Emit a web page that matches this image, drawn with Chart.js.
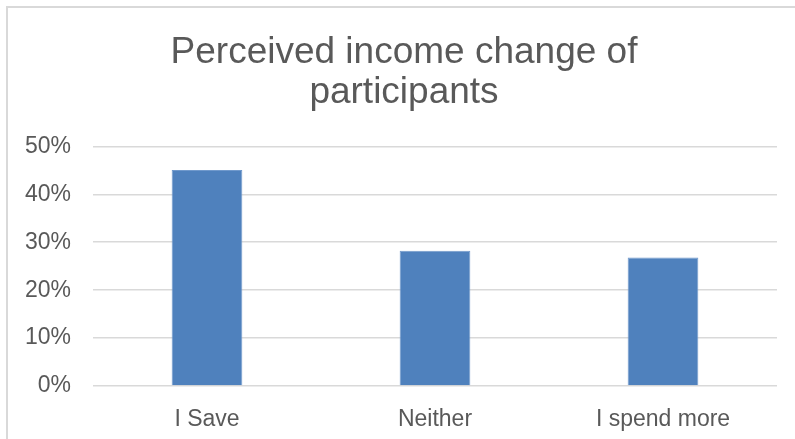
<!DOCTYPE html>
<html>
<head>
<meta charset="utf-8">
<script src="https://cdn.jsdelivr.net/npm/chart.js@4"></script>
<style>
  html, body { margin: 0; padding: 0; background: #fff; }
  #wrap { position: relative; width: 795px; height: 439px; overflow: hidden; }
  #frame { position: absolute; left: 6px; top: 6px; width: 820px; height: 460px;
           border: 2px solid #d9d9d9; box-sizing: border-box; }
  canvas { position: absolute; left: 0; top: 0; }
</style>
</head>
<body>
<div id="wrap">
  <div id="frame"></div>
  <!-- canvas un poco más ancho: el marco del original sigue fuera de la imagen -->
  <canvas id="chart" width="808" height="439"></canvas>
</div>
<script>
// Datos del gráfico
const categories = ['I Save', 'Neither', 'I spend more'];
const shares = [45.1, 28.2, 26.8];
const titleLines = ['Perceived income change of', 'participants'];

const grey = '#595959';
const fontFamily = '"Liberation Sans", Arial, sans-serif';

new Chart(document.getElementById('chart'), {
  type: 'bar',
  data: {
    labels: categories,
    datasets: [{
      data: shares,
      backgroundColor: '#4f81bd',
      borderColor: '#7099cc',
      borderWidth: 1,
      categoryPercentage: 1,
      barPercentage: 0.31
    }]
  },
  options: {
    responsive: false,
    animation: false,
    layout: { padding: 0 },
    plugins: {
      legend: { display: false },
      tooltip: { enabled: false },
      title: {
        display: true,
        text: titleLines,
        color: grey,
        font: { family: fontFamily, size: 37, weight: 'normal', lineHeight: 1.1 },
        padding: { top: 32, bottom: 33 }
      }
    },
    scales: {
      x: {
        grid: { display: false },
        border: { display: false },
        ticks: {
          color: grey,
          padding: 12,
          font: { family: fontFamily, size: 23 }
        },
        afterFit: s => { s.height = 53; }
      },
      y: {
        min: 0,
        max: 50,
        border: { display: false },
        grid: { color: '#d9d9d9', lineWidth: 1.5, drawTicks: false },
        ticks: {
          stepSize: 10,
          color: grey,
          padding: 22,
          font: { family: fontFamily, size: 23 },
          callback: v => v + '%'
        },
        afterFit: s => { s.width = 93; }
      },
      // eje vacío a la derecha: deja el margen derecho sin mover el título
      yr: {
        position: 'right',
        grid: { display: false },
        border: { display: false },
        ticks: { display: false },
        afterFit: s => { s.width = 31; }
      }
    }
  }
});
</script>
</body>
</html>
